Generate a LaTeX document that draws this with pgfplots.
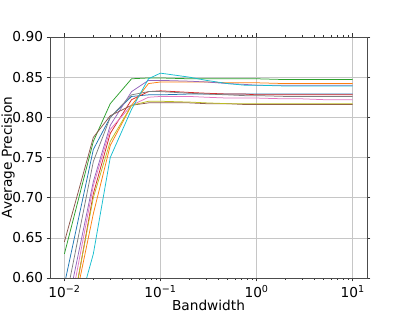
\documentclass[border=0pt]{standalone}
\usepackage{fontspec}
\setmainfont{DejaVu Sans}
\usepackage{pgfplots}
\pgfplotsset{compat=1.18}
\definecolor{c0}{HTML}{1F77B4}
\definecolor{c1}{HTML}{FF7F0E}
\definecolor{c2}{HTML}{2CA02C}
\definecolor{c3}{HTML}{D62728}
\definecolor{c4}{HTML}{9467BD}
\definecolor{c5}{HTML}{8C564B}
\definecolor{c6}{HTML}{E377C2}
\definecolor{c7}{HTML}{7F7F7F}
\definecolor{c8}{HTML}{BCBD22}
\definecolor{c9}{HTML}{17BECF}
\begin{document}
\begin{tikzpicture}
\path[use as bounding box] (-50pt,-35pt) rectangle (357pt,278pt);
\begin{axis}[
  at={(0,0)}, anchor=south west,
  scale only axis, width=317pt, height=241pt,
  xmode=log, xmin=0.00708, xmax=14.1, ymin=0.6, ymax=0.9,
  xtick={0.01,0.1,1,10},
  xticklabels={10\textsuperscript{−2},10\textsuperscript{−1},10\textsuperscript{0},10\textsuperscript{1}},
  ytick={0.6,0.65,0.7,0.75,0.8,0.85,0.9},
  yticklabel style={/pgf/number format/.cd, fixed, fixed zerofill, precision=2},
  /pgf/number format/assume math mode=true,
  tick label style={font=\fontsize{13.7}{16}\selectfont},
  xlabel style={font=\fontsize{13.7}{16}\selectfont, yshift=4pt},
  xlabel={Bandwidth}, ylabel={Average Precision},
  every axis y label/.style={at={(axis description cs:-0.1325,0.5)}, rotate=90, anchor=center, font=\fontsize{13.7}{16}\selectfont},
  tick align=outside,
  major tick length=3.5pt, minor tick length=2pt,
  every tick/.style={black!80, line width=0.6pt},
  axis line style={black!70, line width=0.6pt},
  grid=major, major grid style={gray!45, line width=0.6pt},
  every axis plot/.append style={line width=0.75pt, mark=none},
  clip=true,
]
\addplot[c0] table {
0.01 0.592
0.02 0.760
0.03 0.800
0.05 0.826
0.075 0.828
0.1 0.828
0.2 0.829
0.3 0.829
0.5 0.829
0.75 0.829
1 0.829
2 0.829
3 0.829
5 0.829
7.5 0.829
10 0.829
};
\addplot[c1] table {
0.01 0.506
0.02 0.680
0.03 0.765
0.05 0.815
0.075 0.842
0.1 0.844
0.2 0.844
0.3 0.844
0.5 0.843
0.75 0.843
1 0.843
2 0.842
3 0.842
5 0.842
7.5 0.842
10 0.842
};
\addplot[c2] table {
0.01 0.630
0.02 0.770
0.03 0.817
0.05 0.848
0.075 0.849
0.1 0.849
0.2 0.848
0.3 0.848
0.5 0.848
0.75 0.848
1 0.848
2 0.847
3 0.847
5 0.847
7.5 0.847
10 0.847
};
\addplot[c3] table {
0.01 0.503
0.02 0.705
0.03 0.780
0.05 0.822
0.075 0.832
0.1 0.833
0.2 0.831
0.3 0.830
0.5 0.829
0.75 0.829
1 0.828
2 0.828
3 0.828
5 0.828
7.5 0.828
10 0.828
};
\addplot[c4] table {
0.01 0.546
0.02 0.720
0.03 0.790
0.05 0.832
0.075 0.846
0.1 0.846
0.2 0.845
0.3 0.844
0.5 0.842
0.75 0.841
1 0.840
2 0.840
3 0.840
5 0.840
7.5 0.840
10 0.840
};
\addplot[c5] table {
0.01 0.645
0.02 0.775
0.03 0.802
0.05 0.815
0.075 0.818
0.1 0.818
0.2 0.818
0.3 0.817
0.5 0.817
0.75 0.816
1 0.816
2 0.816
3 0.816
5 0.816
7.5 0.816
10 0.816
};
\addplot[c6] table {
0.01 0.526
0.02 0.715
0.03 0.785
0.05 0.815
0.075 0.825
0.1 0.826
0.2 0.826
0.3 0.825
0.5 0.824
0.75 0.824
1 0.824
2 0.823
3 0.823
5 0.822
7.5 0.822
10 0.822
};
\addplot[c7] table {
0.01 0.564
0.02 0.745
0.03 0.800
0.05 0.828
0.075 0.832
0.1 0.832
0.2 0.830
0.3 0.829
0.5 0.828
0.75 0.827
1 0.827
2 0.826
3 0.826
5 0.826
7.5 0.826
10 0.826
};
\addplot[c8] table {
0.01 0.510
0.02 0.700
0.03 0.770
0.05 0.815
0.075 0.820
0.1 0.820
0.2 0.819
0.3 0.818
0.5 0.817
0.75 0.817
1 0.817
2 0.817
3 0.817
5 0.817
7.5 0.817
10 0.817
};
\addplot[c9] table {
0.01 0.500
0.02 0.630
0.03 0.750
0.05 0.810
0.075 0.848
0.1 0.855
0.2 0.850
0.3 0.846
0.5 0.842
0.75 0.840
1 0.840
2 0.839
3 0.839
5 0.839
7.5 0.839
10 0.839
};
\end{axis}
\end{tikzpicture}
\end{document}
